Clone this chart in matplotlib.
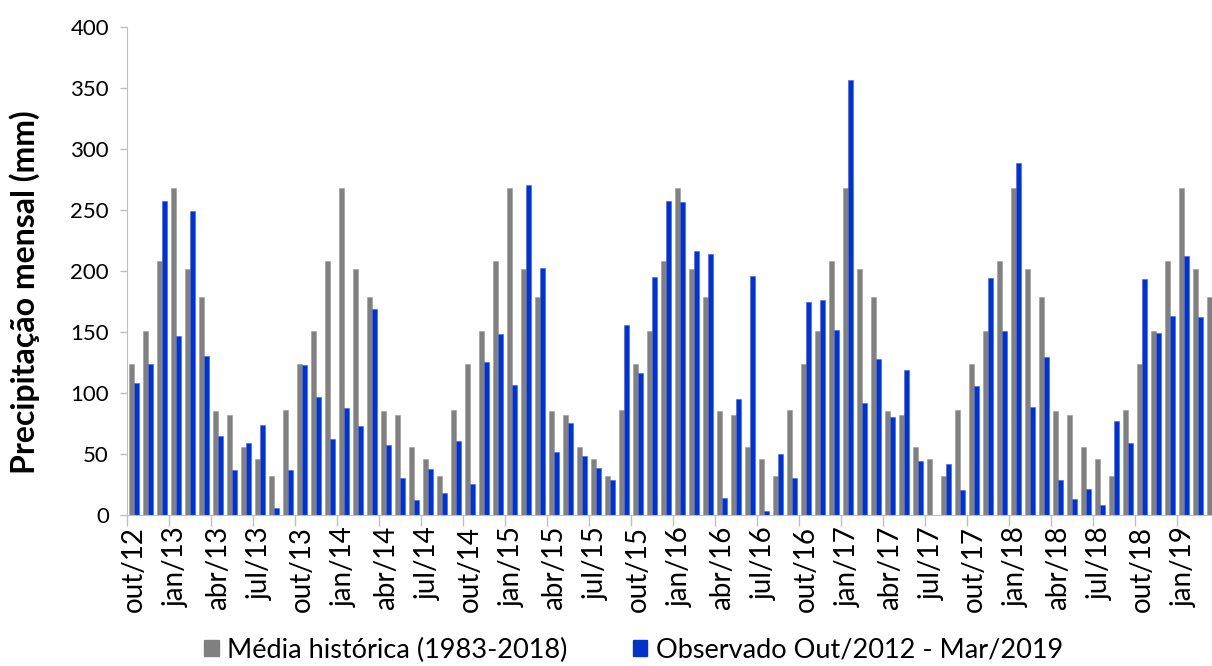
import numpy as np
import matplotlib
matplotlib.use("Agg")
import matplotlib.pyplot as plt
from matplotlib.patches import Patch

plt.rcParams['font.family'] = ['Lato', 'DejaVu Sans']

months_pt = ["jan", "fev", "mar", "abr", "mai", "jun", "jul", "ago", "set", "out", "nov", "dez"]

# Oct/2012 .. Mar/2019
labels = []
y, m = 2012, 10
while (y, m) <= (2019, 3):
    labels.append(f"{months_pt[m-1]}/{str(y)[2:]}")
    m += 1
    if m > 12:
        m = 1
        y += 1

# Historical monthly mean (Oct..Sep)
clim_oct_sep = [124, 151, 208, 268, 201.5, 179, 85, 82, 56, 46, 32, 86]
media_historica = [clim_oct_sep[i % 12] for i in range(len(labels))]

observado = [
    108, 123.5, 257, 146.5, 249.5, 130, 64.7, 36.7, 59.2, 73.5, 6.0, 36.7,        # out/12 - set/13
    123, 96.5, 62.2, 87.7, 72.6, 168.6, 57.3, 30.4, 12.1, 37.3, 18.4, 60.3,        # out/13 - set/14
    25.2, 125.3, 148.3, 106.6, 270.3, 202.6, 51.8, 75.1, 48.2, 38.7, 28.8, 156.0,  # out/14 - set/15
    116.5, 195.2, 257.7, 256.9, 216.3, 214.1, 13.7, 95.4, 196.3, 3.0, 49.9, 30.7,  # out/15 - set/16
    174.9, 176.0, 151.9, 356.9, 92.1, 127.5, 80.0, 119.0, 44.1, 0.0, 42.2, 20.3,   # out/16 - set/17
    105.5, 194.4, 150.8, 288.4, 88.5, 129.1, 28.8, 13.4, 21.1, 7.9, 77.3, 59.2,    # out/17 - set/18
    193.3, 149.1, 163.4, 212.4, 162.6, np.nan,                                     # out/18 - mar/19
]

series_names = ["Média histórica (1983-2018)", "Observado Out/2012 - Mar/2019"]
gray = "#808080"
blue = "#0033cc"

fig = plt.figure(figsize=(12.12, 6.66), dpi=100)
ax = fig.add_axes([127/1212, 1 - 515/666, 1 - 127/1212, (515 - 27)/666])

x = np.arange(len(labels))
w = 0.37
ax.bar(x - w/2, media_historica, width=w, color=gray, edgecolor="#9a9a9a", linewidth=0.4, zorder=2)
ax.bar(x + w/2, observado, width=w, color=blue, edgecolor="#3a62ff", linewidth=0.4, zorder=2)

ax.set_ylim(0, 400)
ax.set_xlim(-0.5, 77.0)
ax.set_yticks(np.arange(0, 401, 50))
ax.tick_params(axis='y', labelsize=16, length=5, color="#bfbfbf", width=1, pad=8)

# major ticks: labels at every 3rd month center; minor: boundary tick marks
major = x[::3]
ax.set_xticks(major)
ax.set_xticklabels([labels[i] for i in major], rotation=90, fontsize=20)
ax.tick_params(axis='x', which='major', length=0, pad=8)
ax.set_xticks(major - 0.5, minor=True)
ax.tick_params(axis='x', which='minor', length=8, color="#bfbfbf", width=1)

for s in ["top", "right"]:
    ax.spines[s].set_visible(False)
ax.spines["left"].set_color("#bfbfbf")
ax.spines["bottom"].set_color("#bfbfbf")

ax.set_ylabel("Precipitação mensal (mm)", fontsize=23, fontweight="bold")
ax.yaxis.set_label_coords(-0.08, 0.457)

handles = [Patch(facecolor=gray, edgecolor=gray), Patch(facecolor=blue, edgecolor=blue)]
fig.legend(handles, series_names, loc="center", bbox_to_anchor=(0.5227, 0.024), ncol=2,
           frameon=False, fontsize=19.5, handlelength=0.55, handleheight=0.55,
           handletextpad=0.3, columnspacing=2.4)

fig.savefig("out.png", dpi=100)
